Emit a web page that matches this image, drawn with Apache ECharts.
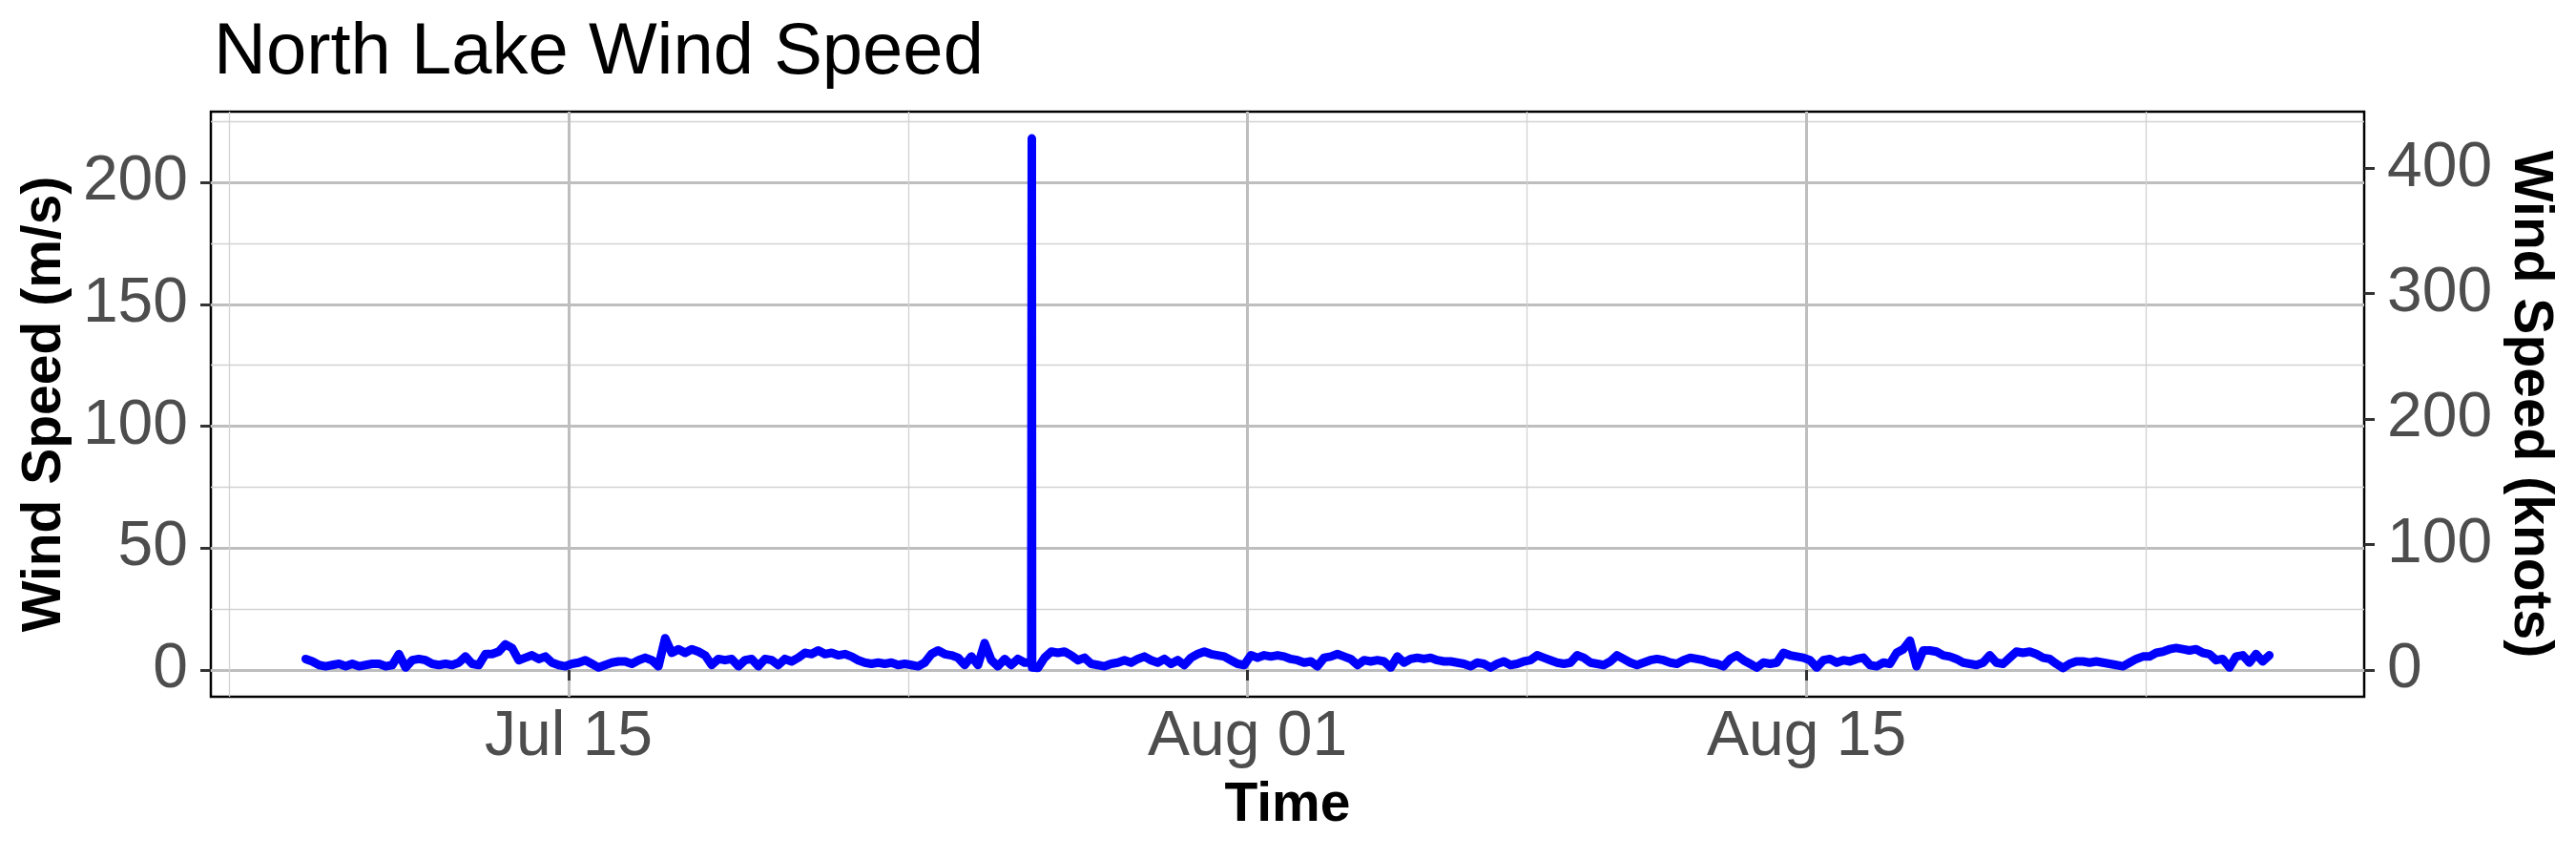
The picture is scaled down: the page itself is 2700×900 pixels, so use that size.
<!DOCTYPE html>
<html>
<head>
<meta charset="utf-8">
<script src="https://cdn.jsdelivr.net/npm/echarts@6/dist/echarts.min.js"></script>
<style>
html,body{margin:0;padding:0;background:#ffffff;}
#chart{width:2700px;height:900px;}
</style>
</head>
<body>
<div id="chart"></div>
<script>
// ---------------- data ----------------
const chartTitle = 'North Lake Wind Speed';
const xTitle = 'Time';
const yLeftTitle = 'Wind Speed (m/s)';
const yRightTitle = 'Wind Speed (knots)';

// regular samples every 4 hours starting 08 Jul 10:00 (m/s)
const startUTC = [2021, 6, 8, 10];
const stepHours = 4;
const windA = [4.5,3.5,2.0,1.5,2.0,2.5,1.5,2.5,1.5,2.0,
  2.5,2.5,1.5,2.0,6.5,1.0,4.0,4.5,4.0,2.5,
  2.0,2.5,2.0,3.0,5.5,2.5,2.0,6.5,6.5,7.5,
  10.5,9.0,4.0,5.0,6.0,4.5,5.5,3.0,2.0,1.5,
  2.5,3.0];
const windB = [4.0,2.5,1.0,2.0,3.0,3.5,3.5,2.5,4.0,5.0,
  4.0,1.5,13.0,7.0,8.5,7.0,8.5,7.5,6.0,2.0,
  4.5,4.0,4.5,1.5,4.0,4.5,1.5,4.5,4.0,2.0,
  4.5,3.5,5.0,7.0,6.5,8.0,6.5,7.0,6.0,6.5,
  5.5,4.0];
const windC = [3.0,2.5,3.0,2.5,3.0,2.0,2.5,2.0,1.5,3.0,
  6.5,8.0,6.5,6.0,5.0,2.0,5.5,2.0,11.0,4.0,
  1.5,4.5,2.0,4.5,3.0,3.0,0.8,5.0,7.5,7.0,
  7.5,6.0,4.0,5.0,2.5,2.0,1.5,2.5,3.0,4.0,
  3.0,4.5];
const windD = [5.5,4.0,3.0,4.5,2.5,4.0,2.0,5.0,6.5,7.5,
  6.5,6.0,5.5,4.0,2.5,2.0,6.0,5.0,6.0,5.5,
  6.0,5.5,4.5,4.0,3.0,3.5,1.5,5.0,5.5,6.5,
  5.5,4.5,2.0,4.0,3.5,4.0,3.5,1.0,5.5,3.0,
  4.5,5.0];
const windE = [4.5,5.0,4.0,3.5,3.5,3.0,2.5,1.5,3.0,2.5,
  1.0,2.5,3.5,2.0,2.5,3.5,4.0,6.0,5.0,4.0,
  3.0,2.5,3.0,6.0,5.0,3.0,2.5,2.0,3.5,6.0,
  4.5,3.0,2.0,3.0,4.0,4.5,4.0,3.0,2.5,4.0,
  5.0,4.5];
const windF = [4.0,3.0,2.5,1.5,4.5,6.0,4.0,2.5,1.0,3.0,
  2.5,3.0,7.0,6.0,5.5,5.0,4.0,1.0,4.0,4.5,
  3.0,4.0,3.5,4.5,5.0,2.0,1.5,3.0,2.5,7.0,
  8.5,12.0,1.5,8.0,8.0,7.5,6.0,5.5,4.5,3.0,
  2.5,2.0];
const windG = [3.0,6.0,3.0,2.5,5.0,7.5,7.0,7.5,6.5,5.0,
  4.5,2.5,0.8,2.5,3.5,3.5,3.0,3.5,3.0,2.5,
  2.0,1.5,3.0,4.5,5.5,5.5,7.0,7.5,8.5,9.0,
  8.5,8.0,8.5,7.0,6.5,4.0,4.5,1.0,5.5,6.0,
  3.0,6.5,3.5,6.0];

// short outlier burst on 26 Jul (10-minute samples)
const spikeTimesUTC = [[2021, 6, 26, 14, 10], [2021, 6, 26, 14, 20], [2021, 6, 26, 14, 30]];
const spikeValues = [3.0, 218.0, 1.0];

// axis ranges and tick values
const xRangeUTC = [[2021, 6, 6, 1], [2021, 7, 28, 23]];
const xMajorUTC = [[2021, 6, 15], [2021, 7, 1], [2021, 7, 15]];
const xMinorUTC = [[2021, 6, 6, 12], [2021, 6, 23, 12], [2021, 7, 8, 0], [2021, 7, 23, 12]];
const yRange = [-11, 229];
const yMajor = [0, 50, 100, 150, 200];
const yMinor = [25, 75, 125, 175, 225];
const knotTicks = [0, 100, 200, 300, 400];
const msToKnots = 1.943844;
const monthNames = ['Jan','Feb','Mar','Apr','May','Jun','Jul','Aug','Sep','Oct','Nov','Dec'];

// ---------------- build ----------------
const utc = a => Date.UTC(a[0], a[1], a[2], a[3] || 0, a[4] || 0);
const wind = [].concat(windA, windB, windC, windD, windE, windF, windG);
const t0 = utc(startUTC);
const seriesData = wind.map((v, i) => [t0 + i * stepHours * 3600000, v])
  .concat(spikeTimesUTC.map((t, i) => [utc(t), spikeValues[i]]))
  .sort((a, b) => a[0] - b[0]);
const xMin = utc(xRangeUTC[0]), xMax = utc(xRangeUTC[1]);
const xMajor = xMajorUTC.map(utc), xMinor = xMinorUTC.map(utc);
const fmtDate = v => { const d = new Date(v); const dd = d.getUTCDate(); return monthNames[d.getUTCMonth()] + ' ' + (dd < 10 ? '0' + dd : dd); };

const FONT = "'Liberation Sans', Arial, sans-serif";
const tickLabel = { fontFamily: FONT, fontSize: 66, color: '#4d4d4d' };
const axisName = { fontFamily: FONT, fontSize: 57, fontWeight: 'bold', color: '#000' };
const majorLine = { show: true, lineStyle: { color: '#bebebe', width: 3 } };
const minorLine = { show: true, lineStyle: { color: '#d2d2d2', width: 1.3 } };
const tickStyle = { color: '#333333', width: 3 };

const chart = echarts.init(document.getElementById('chart'), null, { renderer: 'canvas' });
chart.setOption({
  animation: false,
  backgroundColor: '#ffffff',
  title: {
    text: chartTitle, left: 219, top: 13,
    textStyle: { fontFamily: FONT, fontSize: 76, fontWeight: 'normal', color: '#000' }
  },
  grid: { left: 221, right: 222, top: 117, bottom: 170, show: true, borderColor: '#000', borderWidth: 2.5, backgroundColor: 'rgba(0,0,0,0)' },
  xAxis: [
    {
      type: 'value', min: xMin, max: xMax, position: 'bottom',
      name: xTitle, nameLocation: 'middle', nameGap: 86, nameTextStyle: axisName,
      axisLine: { show: false },
      axisTick: { show: true, length: 11, lineStyle: tickStyle, customValues: xMajor },
      axisLabel: Object.assign({ customValues: xMajor, formatter: fmtDate, margin: 10 }, tickLabel),
      splitLine: majorLine
    },
    {
      type: 'value', min: xMin, max: xMax, position: 'bottom',
      axisLine: { show: false },
      axisTick: { show: false, customValues: xMinor },
      axisLabel: { show: false },
      splitLine: minorLine
    }
  ],
  yAxis: [
    {
      type: 'value', min: yRange[0], max: yRange[1], position: 'left',
      name: yLeftTitle, nameLocation: 'middle', nameGap: 142, nameTextStyle: axisName,
      axisLine: { show: false },
      axisTick: { show: true, length: 11, lineStyle: tickStyle, customValues: yMajor },
      axisLabel: Object.assign({ customValues: yMajor, margin: 24 }, tickLabel),
      splitLine: majorLine
    },
    {
      type: 'value', min: yRange[0] * msToKnots, max: yRange[1] * msToKnots, position: 'right',
      name: yRightTitle, nameLocation: 'middle', nameGap: 120, nameRotate: -90, nameTextStyle: axisName,
      axisLine: { show: false },
      axisTick: { show: true, length: 11, lineStyle: tickStyle, customValues: knotTicks },
      axisLabel: Object.assign({ customValues: knotTicks, margin: 24 }, tickLabel),
      splitLine: { show: false }
    },
    {
      type: 'value', min: yRange[0], max: yRange[1], position: 'left',
      axisLine: { show: false },
      axisTick: { show: false, customValues: yMinor },
      axisLabel: { show: false },
      splitLine: minorLine
    }
  ],
  series: [{
    type: 'line', xAxisIndex: 0, yAxisIndex: 0,
    data: seriesData, showSymbol: false, symbol: 'none',
    lineStyle: { color: '#0000ff', width: 9, cap: 'round', join: 'round' },
    z: 5
  }]
});
</script>
</body>
</html>
